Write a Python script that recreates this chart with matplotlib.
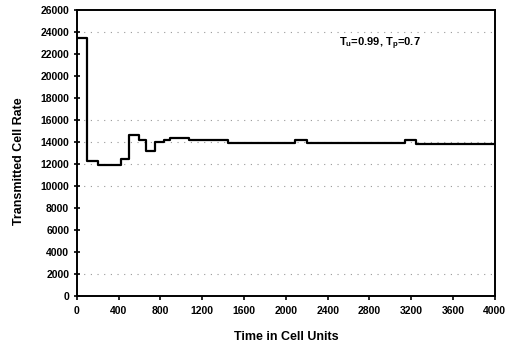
import matplotlib.pyplot as plt

plt.rcParams['font.family'] = ['Liberation Sans', 'DejaVu Sans']
plt.rcParams['font.weight'] = 'bold'
plt.rcParams['mathtext.fontset'] = 'custom'
plt.rcParams['mathtext.rm'] = 'Liberation Sans:bold'

# step change times (cell units) and the rate held from each time on
step_times = [0, 100, 200, 420, 500, 590, 665, 745, 830, 895, 1070, 1450,
              2090, 2200, 3140, 3250, 4000]
step_rates = [23500, 12300, 11950, 12500, 14600, 14200, 13200, 14000, 14150,
              14350, 14150, 13950, 14200, 13900, 14150, 13850, 13850]

x_ticks = list(range(0, 4001, 400))
y_ticks = list(range(0, 26001, 2000))
grid_levels = [2000, 10000, 12000, 14000, 16000, 24000]

fig = plt.figure(figsize=(5.16, 3.47), dpi=100)
ax = fig.add_axes([0.149, 0.147, 0.81, 0.824])

for g in grid_levels:
    ax.axhline(g, color='#999999', linestyle=(0, (1, 5)), linewidth=0.8, zorder=1)

ax.step(step_times, step_rates, where='post', color='black', linewidth=1.6, zorder=3)

ax.set_xlim(0, 4000)
ax.set_ylim(0, 26000)
ax.set_xticks(x_ticks)
ax.set_yticks(y_ticks)
ax.tick_params(axis='x', direction='out', length=3, width=1.2, labelsize=7.5, pad=4)
ax.tick_params(axis='y', direction='inout', length=5, width=1.2, labelsize=7.5, pad=3)
for s in ax.spines.values():
    s.set_linewidth(1.4)

ax.set_xlabel('Time in Cell Units', fontsize=9, fontweight='bold', labelpad=11)
ax.set_ylabel('Transmitted Cell Rate', fontsize=9, fontweight='bold')
ax.yaxis.set_label_coords(-0.125, 0.47)

ax.text(2900, 22900, r'T$_{\rm u}$=0.99, T$_{\rm p}$=0.7', fontsize=8,
        ha='center', va='center')

fig.savefig('out.png', dpi=100)
